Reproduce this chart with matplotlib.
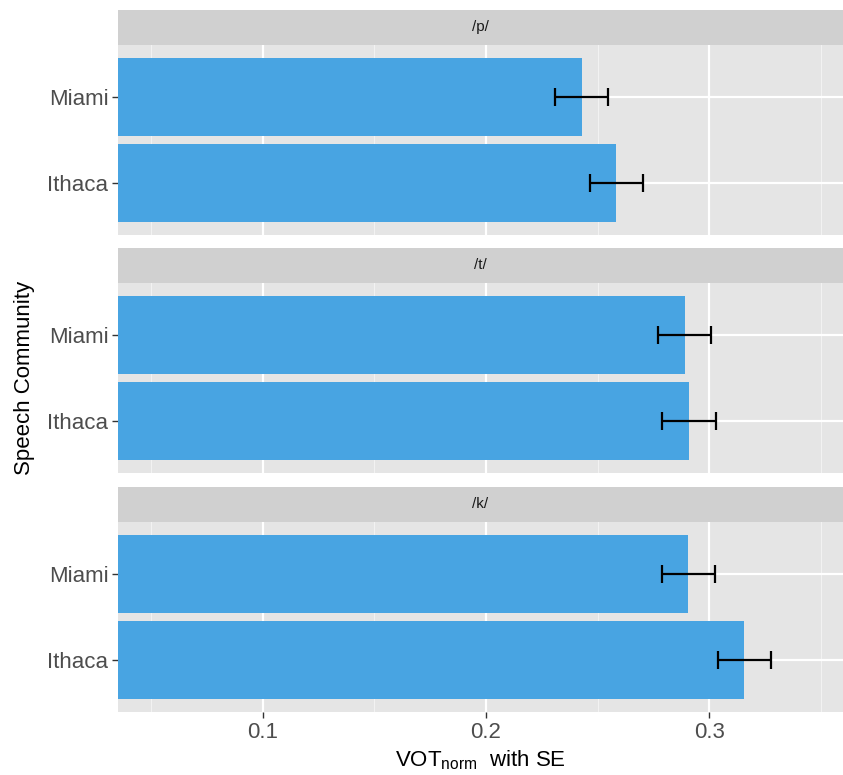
import matplotlib
matplotlib.use("Agg")
import matplotlib.pyplot as plt
from matplotlib.ticker import MultipleLocator, FormatStrFormatter

plt.rcParams['font.family'] = ['Liberation Sans', 'DejaVu Sans']
plt.rcParams['mathtext.fontset'] = 'custom'
plt.rcParams['mathtext.rm'] = 'Liberation Sans'

# 데이터
phonemes = ["/p/", "/t/", "/k/"]
communities = ["Ithaca", "Miami"]          # 아래에서 위 순서
vot_ithaca = [0.2584, 0.2908, 0.3157]
vot_miami = [0.2429, 0.2891, 0.2906]
se_ithaca = [0.0120, 0.0120, 0.0120]
se_miami = [0.0119, 0.0119, 0.0119]

W, H = 843, 775
fig = plt.figure(figsize=(W / 100, H / 100), dpi=100)

left, right = 118, 843
panels = [(45, 235), (283, 473), (522, 712)]   # 픽셀 (top, bottom)
strip_h = 35.5

for k, (top, bot) in enumerate(panels):
    ax = fig.add_axes([left / W, (H - bot) / H, (right - left) / W, (bot - top) / H])
    ax.set_facecolor("#E5E5E5")
    vals = [vot_ithaca[k], vot_miami[k]]
    errs = [se_ithaca[k], se_miami[k]]
    y = [0, 1]
    ax.barh(y, vals, height=0.9, color="#48A4E2", zorder=2)
    ax.errorbar(vals, y, xerr=errs, fmt="none", ecolor="black", elinewidth=1.6,
                capsize=6.5, capthick=1.6, zorder=3)
    ax.set_xlim(0.0352, 0.3599)
    ax.set_ylim(-0.6, 1.6)
    ax.set_yticks(y)
    ax.set_yticklabels(communities)
    ax.xaxis.set_major_locator(MultipleLocator(0.1))
    ax.xaxis.set_minor_locator(MultipleLocator(0.05))
    ax.xaxis.set_major_formatter(FormatStrFormatter("%.1f"))
    ax.grid(which="major", color="white", lw=1.6, zorder=0)
    ax.grid(which="minor", axis="x", color="#F2F2F2", lw=0.8, zorder=0)
    ax.set_axisbelow(True)
    for s in ax.spines.values():
        s.set_visible(False)
    ax.tick_params(axis="both", which="major", length=4, width=1, color="#333333",
                   labelsize=16, labelcolor="#4D4D4D", pad=3)
    ax.tick_params(axis="x", which="minor", length=0)
    if k < 2:
        ax.tick_params(axis="x", labelbottom=False, length=0)
    else:
        ax.set_xlabel(r"VOT$_{\mathrm{norm}}$  with SE", fontsize=16, labelpad=4)

    # 패싯 스트립
    sax = fig.add_axes([left / W, (H - top) / H, (right - left) / W, strip_h / H])
    sax.set_facecolor("#D0D0D0")
    sax.set_xticks([])
    sax.set_yticks([])
    for s in sax.spines.values():
        s.set_visible(False)
    sax.text(0.5, 0.5, phonemes[k], ha="center", va="center", fontsize=11,
             color="#1A1A1A", transform=sax.transAxes)

fig.text(25 / W, (H - 378) / H, "Speech Community", rotation=90,
         ha="center", va="center", fontsize=16)

fig.savefig("out.png", dpi=100)
